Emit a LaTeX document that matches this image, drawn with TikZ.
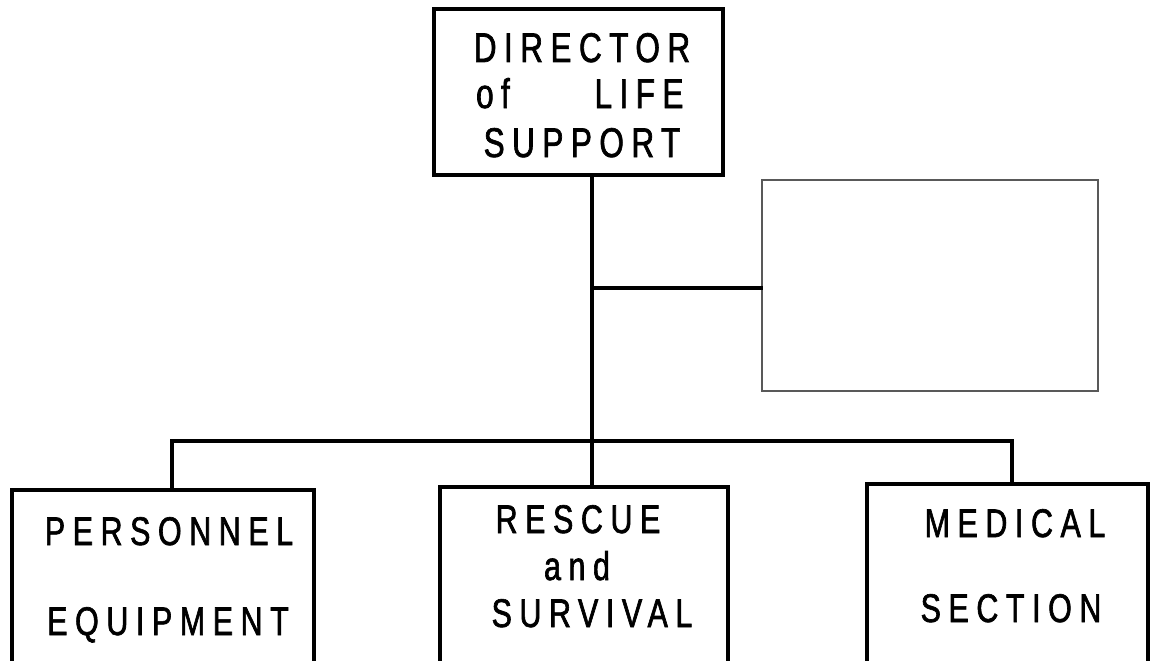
\documentclass[tikz,border=0pt]{standalone}
\usepackage{fontspec}
\newfontfamily\orgtopfont{Liberation Sans}[FakeStretch=0.76,LetterSpace=18,FakeBold=1.6]
\newfontfamily\orgunitfont{Liberation Sans}[FakeStretch=0.76,LetterSpace=19,FakeBold=1.6]
\begin{document}
\begin{tikzpicture}[x=1pt,y=-1pt,
  orgbox/.style={draw=black,line width=3.5pt,rectangle,inner sep=0pt},
  spare/.style={draw=black!65,line width=1.2pt,rectangle,inner sep=0pt},
  link/.style={line width=3.5pt,line cap=rect},
  toptext/.style={anchor=base,inner sep=0pt,font=\orgtopfont\fontsize{41.5}{47}\selectfont},
  unittext/.style={anchor=base,inner sep=0pt,font=\orgunitfont\fontsize{40}{44}\selectfont}]
\useasboundingbox (0,0) rectangle (1151,661);
\clip (0,0) rectangle (1151,661);
\fill[white] (0,0) rectangle (1151,661);

% boxes
\node[orgbox,minimum width=289pt,minimum height=166pt] (director) at (578.5,92) {};
\node[spare,minimum width=336pt,minimum height=211pt] (blank) at (930,285.5) {};
\node[orgbox,minimum width=302pt,minimum height=230pt] (personnel) at (163,605) {};
\node[orgbox,minimum width=288pt,minimum height=233pt] (rescue) at (584,603.5) {};
\node[orgbox,minimum width=281pt,minimum height=236pt] (medical) at (1007.5,602) {};

% box labels
\node[toptext] (d1) at (582,62) {DIRECTOR};
\node[toptext] (d2a) at (493,108) {of};
\node[toptext] (d2b) at (639,108) {LIFE};
\node[toptext] (d3) at (582,157) {SUPPORT};

\node[unittext] (p1) at (169,545) {PERSONNEL};
\node[unittext] (p2) at (168,635) {EQUIPMENT};

\node[unittext] (r1) at (578,533) {RESCUE};
\node[unittext] (r2) at (577,580) {and};
\node[unittext] (r3) at (592,627) {SURVIVAL};

\node[unittext] (m1) at (1015,537) {MEDICAL};
\node[unittext] (m2) at (1011,622) {SECTION};

% connector junctions
\coordinate (trunk) at (592,288);
\coordinate (bus) at (592,441);
\coordinate (busL) at (172,441);
\coordinate (busR) at (1012,441);

\draw[link] (director.south -| trunk) -- (bus);
\draw[link] (trunk) -- (trunk -| blank.west);
\draw[link] (personnel.north -| busL) -- (busL) -- (busR) -- (medical.north -| busR);
\draw[link] (bus) -- (rescue.north -| bus);
\end{tikzpicture}
\end{document}
